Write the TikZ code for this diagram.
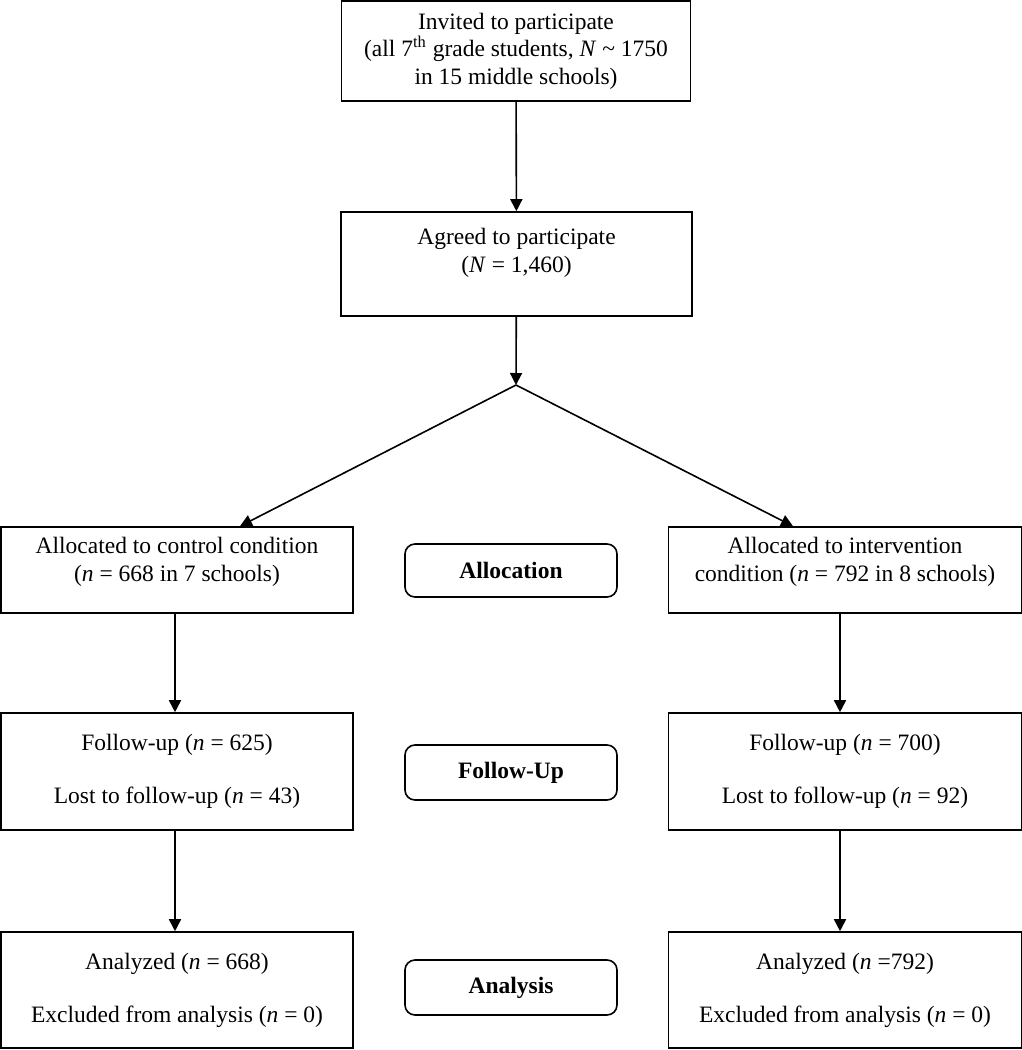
\documentclass[tikz,border=0pt]{standalone}
\usepackage{fontspec}
\setmainfont{Liberation Serif}
\usetikzlibrary{arrows.meta}

\tikzset{
  flowbox/.style={draw, line width=0.8pt, align=center, inner sep=0pt, font=\fontsize{11.75}{13.75}\selectfont},
  stagebox/.style={draw, line width=0.8pt, rounded corners=5pt, align=center, inner sep=0pt, minimum width=106pt, font=\fontsize{11.75}{13.75}\selectfont\bfseries},
  flowarrow/.style={line width=0.8pt, -{Triangle[length=6pt,width=6pt]}}
}

\begin{document}
\begin{tikzpicture}[x=0.5pt,y=0.5pt,yscale=-1,xscale=1]
\useasboundingbox (0,0) rectangle (1022,1050);

%Shape: Rectangle [top]
\node [flowbox, minimum width=174.5pt, minimum height=50pt] (invited) at (516,51) {Invited to participate\\(all 7\textsuperscript{th} grade students, \textit{N} \textasciitilde{} 1750\\in 15 middle schools)};
%Shape: Rectangle [agreed]
\node [flowbox, minimum width=175.5pt, minimum height=52pt] (agreed) at (516.5,264) {Agreed to participate\\(\textit{N} = 1,460)\\\mbox{}};
%split point
\coordinate (split) at (516,385);

%Shape: Rectangle [allocation]
\node [flowbox, minimum width=176pt, minimum height=43pt] (ctrl) at (177,570) {Allocated to control condition\\(\textit{n} = 668 in 7 schools)\\[-3pt]\mbox{}};
\node [flowbox, minimum width=176.5pt, minimum height=43pt] (intv) at (845,570) {Allocated to intervention\\condition (\textit{n} = 792 in 8 schools)\\[-3pt]\mbox{}};
\node [stagebox, minimum height=26.5pt] (alloc) at (511,570.5) {Allocation};

%Shape: Rectangle [follow-up]
\node [flowbox, minimum width=176pt, minimum height=58.5pt] (fuctrl) at (177,771.5) {Follow-up (\textit{n} = 625)\\[12.75pt]Lost to follow-up (\textit{n} = 43)};
\node [flowbox, minimum width=176.5pt, minimum height=58.5pt] (fuintv) at (845,771.5) {Follow-up (\textit{n} = 700)\\[12.75pt]Lost to follow-up (\textit{n} = 92)};
\node [stagebox, minimum height=27.5pt] (follow) at (511,772.5) {Follow-Up};

%Shape: Rectangle [analysis]
\node [flowbox, minimum width=176pt, minimum height=58pt] (anctrl) at (177,990) {Analyzed (\textit{n} = 668)\\[12.75pt]Excluded from analysis (\textit{n} = 0)};
\node [flowbox, minimum width=176.5pt, minimum height=58pt] (anintv) at (845,990) {Analyzed (\textit{n} =792)\\[12.75pt]Excluded from analysis (\textit{n} = 0)};
\node [stagebox, minimum height=27.5pt] (analysis) at (511,987.5) {Analysis};

%Straight Lines
\draw [flowarrow] (invited) -- (agreed);
\draw [flowarrow] (agreed) -- (split);
\draw [flowarrow] (split) -- (ctrl.north -| 240,0);
\draw [flowarrow] (split) -- (intv.north -| 793,0);
\draw [flowarrow] (ctrl.south -| 175,0) -- (fuctrl.north -| 175,0);
\draw [flowarrow] (intv.south -| 840,0) -- (fuintv.north -| 840,0);
\draw [flowarrow] (fuctrl.south -| 175,0) -- (anctrl.north -| 175,0);
\draw [flowarrow] (fuintv.south -| 840,0) -- (anintv.north -| 840,0);

\end{tikzpicture}
\end{document}
